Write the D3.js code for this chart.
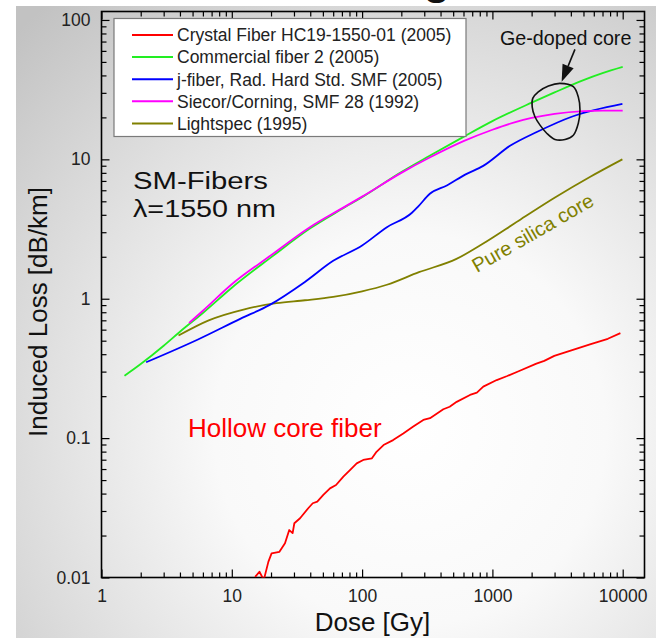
<!DOCTYPE html>
<html>
<head>
<meta charset="utf-8">
<script src="https://cdn.jsdelivr.net/npm/d3@7"></script>
<style>
  body { margin: 0; background: #fff; }
  svg { display: block; font-family: "Liberation Sans", Arial, sans-serif; }
</style>
</head>
<body>
<svg id="chart" width="656" height="638"></svg>
<script>
// --- data (dose in Gy, induced loss in dB/km) ---
const crystalDose = [15.1, 16.3, 17.6, 19.1, 20.2, 23.2, 25.6, 27.6, 29.3, 30.2, 33.4, 38.6, 41.8, 45.3, 50.4, 56.7, 63.1, 71.8, 80.7, 90.9, 102, 119, 129, 146, 173, 207, 247, 295, 332, 420, 470, 532, 673, 760, 851, 1079, 1300, 1589, 2176, 2500, 2985, 4093, 5610, 7690, 9600];
const crystalLoss = [0.0101, 0.0110, 0.0096, 0.0130, 0.0149, 0.0153, 0.0176, 0.0219, 0.0208, 0.0245, 0.0266, 0.0314, 0.0341, 0.0350, 0.0391, 0.0436, 0.0461, 0.0529, 0.0590, 0.0659, 0.0697, 0.0716, 0.0798, 0.0892, 0.0968, 0.108, 0.121, 0.135, 0.139, 0.161, 0.168, 0.182, 0.204, 0.212, 0.234, 0.261, 0.279, 0.302, 0.342, 0.358, 0.389, 0.428, 0.470, 0.516, 0.567];

const commercialDose = [1.5, 2, 3, 4, 6, 10, 20, 40, 70, 100, 200, 330, 600, 1000, 2000, 3000, 5000, 7000, 10000];
const commercialLoss = [0.28, 0.34, 0.46, 0.58, 0.79, 1.2, 1.98, 3.2, 4.4, 5.35, 8.1, 10.6, 14.5, 18.8, 25.5, 30.2, 37, 41.5, 46];

const jfiberDose = [2.2, 5.5, 11.7, 19.4, 36.4, 60, 100, 155, 240, 270, 331, 447, 618, 850, 1365, 2190, 4110, 9950];
const jfiberLoss = [0.35, 0.51, 0.72, 0.90, 1.32, 1.87, 2.41, 3.26, 4.12, 4.6, 5.66, 6.5, 7.77, 8.98, 12.5, 15.7, 20.3, 25];

const siecorDose = [4.7, 6, 10, 20, 40, 70, 100, 200, 330, 600, 1000, 1500, 2000, 3000, 5000, 7000, 10000];
const siecorLoss = [0.67, 0.82, 1.27, 2.05, 3.27, 4.45, 5.4, 8.0, 10.3, 13.5, 16.3, 18.5, 19.8, 21.2, 22.2, 22.4, 22.4];

const lightspecDose = [3.9, 6.65, 12.5, 22, 36.4, 60, 100, 155, 273, 530, 850, 1590, 3000, 5640, 9950];
const lightspecLoss = [0.545, 0.70, 0.84, 0.93, 0.975, 1.03, 1.13, 1.26, 1.55, 1.93, 2.49, 3.63, 5.3, 7.5, 10];

const legendNames = [
  "Crystal Fiber HC19-1550-01 (2005)",
  "Commercial fiber 2 (2005)",
  "j-fiber, Rad. Hard Std. SMF (2005)",
  "Siecor/Corning, SMF 28 (1992)",
  "Lightspec (1995)"
];

const xTickValues = [1, 10, 100, 1000, 10000];
const xTickLabels = ["1", "10", "100", "1000", "10000"];
const yTickValues = [0.01, 0.1, 1, 10, 100];
const yTickLabels = ["0.01", "0.1", "1", "10", "100"];

// Ge-doped core loop and arrow (data coordinates)
const loopDose = [3300, 4180, 4560, 4700, 4560, 4180, 3610, 3020, 2610, 2320, 2120, 2020, 2040, 2250, 2690, 3110];
const loopLoss = [35.1, 33.2, 28.1, 22.6, 18.1, 14.9, 13.9, 13.9, 15.4, 17.6, 20.2, 23.8, 27.4, 30.5, 33.6, 35.1];
const arrowDose = [4300, 3400];
const arrowLoss = [61.5, 36.0];

// --- layout ---
const svg = d3.select("#chart");
const plotLeft = 101.5, plotRight = 644.5, plotTop = 11.5, plotBottom = 577.5;

const x = d3.scaleLog().domain([1, 14700]).range([plotLeft, plotRight]);
const y = d3.scaleLog().domain([0.01, 115]).range([plotBottom, plotTop]);

// background
const defs = svg.append("defs");
const grad = defs.append("radialGradient")
    .attr("id", "bg")
    .attr("gradientUnits", "userSpaceOnUse")
    .attr("cx", 410).attr("cy", 430).attr("r", 560);
grad.append("stop").attr("offset", 0).attr("stop-color", "#ffffff");
grad.append("stop").attr("offset", 0.35).attr("stop-color", "#f9f9f9");
grad.append("stop").attr("offset", 0.75).attr("stop-color", "#d8d8d8");
grad.append("stop").attr("offset", 1).attr("stop-color", "#c2c2c2");

defs.append("clipPath").attr("id", "plotclip")
  .append("rect")
    .attr("x", plotLeft).attr("y", plotTop)
    .attr("width", plotRight - plotLeft).attr("height", plotBottom - plotTop);

svg.append("rect").attr("width", 656).attr("height", 638).attr("fill", "#fff");
svg.append("rect")
    .attr("x", 16).attr("y", 6)
    .attr("width", 640).attr("height", 632)
    .attr("fill", "url(#bg)");

// bottom of the slide title glyph peeking in at the top edge
svg.append("text")
    .attr("x", 437).attr("y", -6)
    .attr("text-anchor", "middle")
    .attr("font-size", 44).attr("font-weight", "bold")
    .attr("fill", "#111")
    .text("g");

// minor tick values
function minors(lo, hi) {
  const out = [];
  for (let e = lo; e <= hi; e++) {
    for (let k = 2; k <= 9; k++) out.push(k * Math.pow(10, e));
  }
  return out;
}
const xMinor = minors(0, 3);
const yMinor = minors(-2, 1);

function styleAxis(g) {
  g.select(".domain").remove();
  g.selectAll(".tick line").attr("stroke", "#000").attr("stroke-width", 1.2);
}
function styleLabels(g) {
  g.selectAll("text").attr("font-size", 17.5).attr("fill", "#222")
    .attr("font-family", "Liberation Sans, Arial, sans-serif");
}

// bottom
svg.append("g")
    .attr("transform", `translate(0,${plotBottom})`)
    .call(d3.axisBottom(x).tickValues(xTickValues).tickSize(-8).tickPadding(12)
      .tickFormat((d, i) => xTickLabels[i]))
    .call(styleAxis)
    .call(styleLabels);
svg.append("g")
    .attr("transform", `translate(0,${plotBottom})`)
    .call(d3.axisBottom(x).tickValues(xMinor).tickSize(-5).tickFormat(""))
    .call(styleAxis);

// top
svg.append("g")
    .attr("transform", `translate(0,${plotTop})`)
    .call(d3.axisTop(x).tickValues(xTickValues).tickSize(-8).tickFormat(""))
    .call(styleAxis);
svg.append("g")
    .attr("transform", `translate(0,${plotTop})`)
    .call(d3.axisTop(x).tickValues(xMinor).tickSize(-5).tickFormat(""))
    .call(styleAxis);

// left
svg.append("g")
    .attr("transform", `translate(${plotLeft},0)`)
    .call(d3.axisLeft(y).tickValues(yTickValues).tickSize(-8).tickPadding(11)
      .tickFormat((d, i) => yTickLabels[i]))
    .call(styleAxis)
    .call(styleLabels);
svg.append("g")
    .attr("transform", `translate(${plotLeft},0)`)
    .call(d3.axisLeft(y).tickValues(yMinor).tickSize(-5).tickFormat(""))
    .call(styleAxis);

// right
svg.append("g")
    .attr("transform", `translate(${plotRight},0)`)
    .call(d3.axisRight(y).tickValues(yTickValues).tickSize(-8).tickFormat(""))
    .call(styleAxis);
svg.append("g")
    .attr("transform", `translate(${plotRight},0)`)
    .call(d3.axisRight(y).tickValues(yMinor).tickSize(-5).tickFormat(""))
    .call(styleAxis);

// frame
svg.append("rect")
    .attr("x", plotLeft).attr("y", plotTop)
    .attr("width", plotRight - plotLeft).attr("height", plotBottom - plotTop)
    .attr("fill", "none").attr("stroke", "#000").attr("stroke-width", 1.6);

// curves
const smooth = d3.line().x(d => x(d[0])).y(d => y(d[1])).curve(d3.curveMonotoneX);
const jagged = d3.line().x(d => x(d[0])).y(d => y(d[1]));
const zip = (a, b) => a.map((v, i) => [v, b[i]]);

const plot = svg.append("g").attr("clip-path", "url(#plotclip)");

const curves = [
  { pts: zip(lightspecDose, lightspecLoss), color: "#808000", gen: smooth },
  { pts: zip(jfiberDose, jfiberLoss), color: "#0000ff", gen: smooth },
  { pts: zip(commercialDose, commercialLoss), color: "#22ee22", gen: smooth },
  { pts: zip(siecorDose, siecorLoss), color: "#ff00ff", gen: smooth },
  { pts: zip(crystalDose, crystalLoss), color: "#ff0000", gen: jagged }
];
curves.forEach(c => {
  plot.append("path")
      .attr("d", c.gen(c.pts))
      .attr("fill", "none")
      .attr("stroke", c.color)
      .attr("stroke-width", 1.8)
      .attr("stroke-linejoin", "round");
});

// legend
const legendColors = ["#ff0000", "#22ee22", "#0000ff", "#ff00ff", "#808000"];
const legend = svg.append("g");
legend.append("rect")
    .attr("x", 114).attr("y", 18.5)
    .attr("width", 352).attr("height", 118)
    .attr("fill", "#fff").attr("stroke", "#7a7a7a").attr("stroke-width", 1.2);
legendNames.forEach((name, i) => {
  const ly = 35 + i * 22.1;
  legend.append("line")
      .attr("x1", 132).attr("x2", 173).attr("y1", ly).attr("y2", ly)
      .attr("stroke", legendColors[i]).attr("stroke-width", 2);
  legend.append("text")
      .attr("x", 177).attr("y", ly).attr("dy", "0.36em")
      .attr("font-size", 17.5).attr("fill", "#222")
      .text(name);
});

// Ge-doped core annotation
svg.append("path")
    .attr("d", d3.line().x(d => x(d[0])).y(d => y(d[1])).curve(d3.curveCatmullRomClosed)(zip(loopDose, loopLoss).slice(0, -1)))
    .attr("fill", "none").attr("stroke", "#111").attr("stroke-width", 1.6);

const a0 = [x(arrowDose[0]), y(arrowLoss[0])];
const a1 = [x(arrowDose[1]), y(arrowLoss[1])];
const ang = Math.atan2(a1[1] - a0[1], a1[0] - a0[0]);
const headLen = 17, headW = 6;
const base = [a1[0] - headLen * Math.cos(ang), a1[1] - headLen * Math.sin(ang)];
svg.append("line")
    .attr("x1", a0[0]).attr("y1", a0[1]).attr("x2", base[0]).attr("y2", base[1])
    .attr("stroke", "#111").attr("stroke-width", 1.6);
svg.append("path")
    .attr("d", `M${a1[0]},${a1[1]}L${base[0] + headW * Math.sin(ang)},${base[1] - headW * Math.cos(ang)}L${base[0] - headW * Math.sin(ang)},${base[1] + headW * Math.cos(ang)}Z`)
    .attr("fill", "#111");

svg.append("text")
    .attr("x", 500).attr("y", 45)
    .attr("font-size", 19.7).attr("fill", "#111")
    .text("Ge-doped core");

// in-plot labels
svg.append("text")
    .attr("x", 133).attr("y", 189)
    .attr("font-size", 23).attr("fill", "#111")
    .attr("textLength", 135).attr("lengthAdjust", "spacingAndGlyphs")
    .text("SM-Fibers");
svg.append("text")
    .attr("x", 133).attr("y", 217)
    .attr("font-size", 23).attr("fill", "#111")
    .attr("textLength", 143).attr("lengthAdjust", "spacingAndGlyphs")
    .text("λ=1550 nm");

svg.append("text")
    .attr("x", 188).attr("y", 437)
    .attr("font-size", 26).attr("fill", "#ff0000")
    .text("Hollow core fiber");

svg.append("text")
    .attr("transform", "translate(477,273) rotate(-30)")
    .attr("font-size", 20).attr("fill", "#808000")
    .text("Pure silica core");

// axis titles
svg.append("text")
    .attr("x", 372.5).attr("y", 631)
    .attr("text-anchor", "middle")
    .attr("font-size", 26).attr("fill", "#111")
    .text("Dose [Gy]");
svg.append("text")
    .attr("transform", "translate(46.5,312) rotate(-90)")
    .attr("text-anchor", "middle")
    .attr("font-size", 26).attr("fill", "#111")
    .text("Induced Loss [dB/km]");
</script>
</body>
</html>
